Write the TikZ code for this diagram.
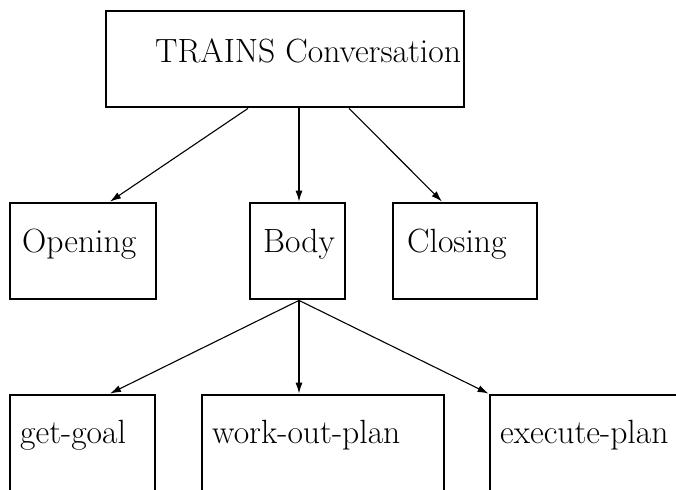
\documentclass[tikz,border=0pt]{standalone}
\usepackage{fontspec}
\setmainfont{Latin Modern Roman}
\usetikzlibrary{arrows.meta}
\begin{document}
\begin{tikzpicture}[x=1pt,y=-1pt,
  box/.style={draw,line width=2.8pt,inner sep=0pt,minimum width=#1},
  lbl/.style={anchor=base west,inner sep=0pt,font=\fontsize{33.6}{40}\selectfont},
  link/.style={line width=1.1pt,-{Latex[length=11pt,width=7pt]}}]
\useasboundingbox (0,0) rectangle (676,489);
\clip (0,0) rectangle (676,489);
% level 0
\node[box=358,minimum height=96] (conv) at (285,59) {};
% level 1
\node[box=146,minimum height=96] (open) at (83,251) {};
\node[box=95,minimum height=96] (body) at (297.5,251) {};
\node[box=144,minimum height=96] (close) at (465,251) {};
% level 2 (boxes run past the lower and right borders)
\node[box=145,minimum height=130] (goal) at (82.5,460) {};
\node[box=242,minimum height=130] (work) at (323,460) {};
\node[box=240,minimum height=130] (exec) at (610,460) {};
% labels
\node[lbl] (tconv) at (155,63) {TRAINS Conversation};
\node[lbl] (topen) at (22,252) {Opening};
\node[lbl] (tbody) at (263,252) {Body};
\node[lbl] (tclose) at (407,252) {Closing};
\node[lbl] (tgoal) at (20,443) {get-goal};
\node[lbl] (twork) at (212,443) {work-out-plan};
\node[lbl] (texec) at (500,443) {execute-plan};
% connectors
\draw[link] (conv.south -| 248,0) -- (open.north -| 110,0);
\draw[link] (conv.south -| 299,0) -- (body.north -| 299,0);
\draw[link] (conv.south -| 349,0) -- (close.north -| 442,0);
\draw[link] (body.south -| 299,0) -- (goal.north -| 110,0);
\draw[link] (body.south -| 299,0) -- (work.north -| 299,0);
\draw[link] (body.south -| 299,0) -- (exec.north west);
\end{tikzpicture}
\end{document}
